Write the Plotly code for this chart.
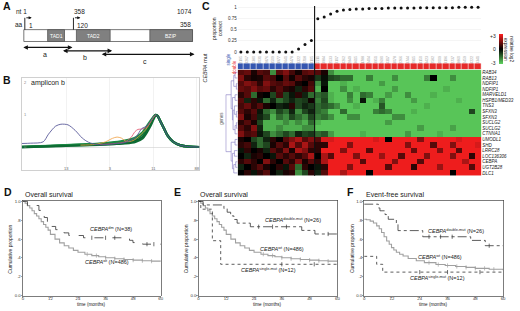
import numpy as np
import plotly.graph_objects as go

W, H = 520, 311
FONT = "Arial, Liberation Sans, sans-serif"

def xd(a, b): return [a / W, b / W]
def yd(top, bottom): return [1 - bottom / H, 1 - top / H]
def PX(x): return x / W
def PY(y): return 1 - y / H

# ---------------- Panel A: CEBPA schematic (schematic units) ----------------
prot_start, prot_end = 23, 193
domain_names = ["TAD1", "TAD2", "BZIP"]
domain_start = [47, 76, 150]
domain_end = [64, 110, 193]
start_sites = [24, 73]
amplicon_names = ["a", "b", "c"]
amplicon_start = [21, 61, 100]
amplicon_end = [72, 112, 195]
amplicon_row = [46, 49.5, 53]

# ---------------- Panel B: melting curves (amplicon b) ----------------
b_ticks = [0.5, 25, 49.5, 74, 98.5]
b_ticktext = ["14", "13", "3", "11", "88"]
wt_u = [0, 10, 22, 33, 44, 52, 58, 64, 68, 70, 72.5, 74.3, 75.4, 76.5, 78, 80, 82, 85, 89, 94, 100]
wt_curves = [
    [0.0, 0.02, 0.04, 0.06, 0.08, 0.10, 0.13, 0.20, 0.32, 0.48, 0.72, 0.92, 1.0, 0.96, 0.80, 0.58, 0.36, 0.17, 0.06, 0.01, 0.0],
    [0.0, 0.02, 0.05, 0.07, 0.10, 0.13, 0.17, 0.26, 0.40, 0.56, 0.78, 0.94, 1.0, 0.96, 0.80, 0.58, 0.36, 0.17, 0.06, 0.01, 0.0],
    [0.01, 0.03, 0.05, 0.08, 0.11, 0.15, 0.20, 0.30, 0.46, 0.62, 0.82, 0.96, 1.0, 0.95, 0.79, 0.57, 0.35, 0.17, 0.06, 0.01, 0.0],
    [-0.01, 0.01, 0.03, 0.05, 0.07, 0.09, 0.11, 0.16, 0.27, 0.42, 0.66, 0.88, 0.99, 0.97, 0.81, 0.59, 0.37, 0.18, 0.06, 0.01, 0.0],
]
wt_colors = ["#0b5e2e", "#127a3a", "#1a8a44", "#0d6b33"]
purple_u = [0, 5, 12, 15, 19, 22, 26, 30, 34, 37.5, 43, 52, 58, 64, 67.6, 70, 72.5, 74.3, 75.4, 76.5, 78, 80, 82, 85, 89, 94, 100]
purple_v = [0.11, 0.12, 0.16, 0.40, 0.65, 0.71, 0.69, 0.52, 0.28, 0.15, 0.07, 0.10, 0.14, 0.30, 0.58, 0.64, 0.80, 0.95, 1.0, 0.96, 0.80, 0.58, 0.36, 0.17, 0.06, 0.01, 0.0]
orange_u = [33, 41, 47, 51, 53.6, 56, 59, 62.6, 66.5, 70, 72.5, 74.3, 75.4]
orange_v = [0.06, 0.08, 0.16, 0.27, 0.31, 0.28, 0.17, 0.20, 0.36, 0.56, 0.78, 0.94, 1.0]
red_u = [44, 52.5, 58, 61.5, 63.7, 65.4, 67.6, 70.4, 72.6, 74.3, 75.4]
red_v = [0.08, 0.11, 0.16, 0.30, 0.48, 0.55, 0.56, 0.62, 0.80, 0.94, 1.0]

# ---------------- Panel C ----------------
sample_ids = ["2195", "3267", "2380", "4031", "2876", "3509", "1977", "2641", "4478", "3322", "2718", "4105",
              "2211", "3984", "2533", "3107", "4262", "2849", "3615", "1788", "2404", "3951", "2690", "4317",
              "3078", "2266", "3744", "2915", "4150", "3423", "2582", "4009", "3196", "2737", "3860", "2459",
              "4222", "3341"]
mut_type = ["single"] * 12 + ["double"] * 26
prop_correct = [0, 0, 0, 0, 0, 0, 0, 0, 0, 0.07, 0.17, 0.26,
                0.74, 0.78, 0.85, 0.91, 0.94, 0.95, 0.96, 0.96, 0.97, 0.97, 0.97, 0.98, 0.98,
                0.98, 0.98, 0.98, 0.99, 0.99, 0.99, 0.99, 0.99, 0.99, 1.0, 1.0, 1.0, 1.0]
genes = ["RAB34", "RAB13", "NDFIP1", "NDFIP1", "MARVELD1", "HSPB1/MED33", "TNS3", "SFXN3", "SFXN3",
         "SUCLG2", "SUCLG2", "CTNNA1", "UMODL1", "SHD", "LRRC28", "LOC136306", "CEBPA", "UGT2B28", "DLC1"]
expr_single = [
    [1.0, 1.2, 0.3, 1.0, 0.8, -2.0, 1.0, 1.5, 0.8, 0.2, 1.0, 1.2],
    [1.5, 0.5, 0.2, 0.3, 1.0, 0.8, 0.0, 1.0, 0.2, 1.0, 0.5, 0.3],
    [1.0, 1.5, 1.2, 0.5, 1.5, 1.0, 0.8, 1.2, 1.0, 0.3, 0.0, 0.8],
    [1.2, 1.0, 1.5, 1.0, 1.2, 0.5, 1.0, 0.5, 0.3, -0.5, 0.5, 1.0],
    [0.5, 1.0, -1.5, 0.2, 0.0, -1.0, 0.8, -1.0, -0.3, 0.5, -0.5, -1.5],
    [1.0, -0.5, 0.5, -0.3, -1.5, -0.5, -1.5, -1.0, -0.5, -1.0, -0.8, 0.2],
    [0.8, 1.2, 0.5, 1.0, 0.3, 0.0, -0.5, -0.3, 0.5, -1.0, -0.5, -0.8],
    [1.0, 0.5, 1.0, -0.3, -1.5, -2.0, -1.0, -1.5, -0.5, -2.0, -1.0, -0.5],
    [1.5, 0.3, 0.8, -0.5, -1.0, -2.5, -1.5, -2.0, -1.0, -1.5, -2.0, -1.0],
    [0.5, 1.0, 0.3, -1.0, -2.5, -2.5, -2.5, -2.0, -2.5, -2.0, -2.5, -1.5],
    [1.0, 0.5, 1.5, -0.5, -2.5, -2.5, -2.0, -2.5, -2.5, -2.5, -2.0, -2.0],
    [1.5, 0.8, 1.0, -0.3, -1.0, -2.0, -1.5, -1.0, -1.5, -0.5, -1.0, -0.8],
    [0.3, 0.0, -1.0, -1.5, -0.5, 0.5, 0.0, 1.0, 1.5, 2.0, 1.0, 1.5],
    [0.5, 0.8, -0.5, -1.5, -1.0, 0.3, 1.0, 0.5, 2.0, 1.0, 2.0, 1.0],
    [-0.3, 0.5, 0.0, 0.3, -0.5, 1.0, 0.5, 1.5, 0.3, 2.0, 1.5, 0.5],
    [0.0, -0.5, 0.3, 0.5, 0.0, -0.3, 1.0, 0.5, 1.0, 0.5, 1.0, 2.0],
    [0.5, 1.0, 0.5, 0.0, 1.5, 0.5, 0.0, 1.0, 0.5, 1.5, 0.3, 1.0],
    [-0.5, 0.0, 0.5, 1.0, 0.3, 0.0, 0.5, -0.3, 1.0, -1.5, 0.5, 0.0],
    [0.0, 0.5, -0.3, 0.5, 1.0, 0.0, -0.5, 0.3, 0.5, -2.0, -1.0, 0.5],
]
expr_double = [
    [1.0, 0.3, -2.0, -2.8, -2.8, -2.8, -2.8, -2.8, -2.8, -2.8, -2.8, -2.8, -2.8,
     -2.8, -2.8, -2.8, -2.8, -2.8, -2.8, -2.8, -2.8, -2.8, -2.8, -2.8, -2.8, -2.8],
    [-0.8, -0.2, -1.0, -1.2, -1.5, -1.5, -2.8, -2.8, -1.8, -2.8, -2.8, -2.8, -2.0,
     -2.8, -2.8, -2.8, -2.8, -1.8, 0.0, -2.8, -2.8, -2.0, -2.8, -2.8, -2.8, -2.8],
    [-2.0, -0.3, -2.8, -2.8, -2.5, -2.8, -2.8, -2.8, -2.8, -2.8, -2.2, -2.8, -2.8,
     -2.8, -2.8, -2.8, -2.8, -2.8, -2.8, -2.8, -2.8, -2.8, -2.8, -2.8, -2.8, -2.8],
    [-2.5, 0.0, -2.8, -2.8, -2.0, -2.8, -2.5, -2.8, -2.8, -2.8, -2.8, -2.8, -2.2,
     -2.8, -2.8, -2.8, -2.8, -2.8, -2.8, -2.8, -2.5, -2.8, -2.8, -2.8, -2.8, -2.8],
    [-1.5, -1.2, -2.5, -2.8, -2.8, -1.8, -2.8, -1.5, -1.8, -2.8, -2.8, -2.2, -2.8,
     -2.8, -2.0, -2.8, -2.8, -2.8, -2.5, -2.8, -2.8, -2.8, -2.8, -2.8, -2.8, -2.8],
    [-1.8, -1.0, -2.5, -2.8, -2.8, -2.0, -2.8, -0.3, -2.8, -2.5, -1.8, -2.8, -2.8,
     -2.8, -2.8, -2.2, -2.8, -2.8, -2.8, -2.8, -2.8, -2.8, -2.5, -2.8, -2.8, -2.8],
    [-1.5, -1.2, -1.5, -2.0, -2.8, -2.8, -2.5, -2.8, -2.8, -2.8, -1.2, -2.8, -2.8,
     -2.8, -2.8, -2.8, -2.8, -2.5, -2.8, -2.8, -2.8, -2.8, -2.8, -2.8, -2.8, -2.8],
    [-1.5, -1.8, -2.8, -2.8, -1.5, -2.8, -2.8, -2.8, -2.8, -1.8, -1.5, -1.8, -2.8,
     -2.8, -2.8, -2.5, -2.8, -2.8, -2.8, -2.8, -2.8, -2.8, -2.8, -2.8, -1.0, -2.8],
    [-1.8, -1.5, -2.0, -2.8, -2.8, -2.0, -2.0, -2.8, -2.8, -2.8, -2.8, -2.8, -2.0,
     -2.0, -2.8, -2.8, -2.8, -2.8, -2.8, -2.8, -2.8, -2.8, -2.8, -2.8, -2.8, -2.8],
    [-2.5, -2.8, -2.8, -2.8, -2.8, -2.8, -2.8, -2.8, -2.8, -2.8, -2.8, -2.2, -2.8,
     -2.8, -2.8, -2.8, -2.8, -2.8, -2.8, -2.8, -2.8, -2.8, -2.8, -2.8, -2.8, -2.8],
    [-2.8, -2.8, -2.8, -2.8, -2.8, -2.8, -2.8, -2.8, -2.8, -2.8, -2.8, -2.8, -2.8,
     -2.8, -2.8, -2.8, -2.2, -2.8, -2.8, -2.8, -2.8, -2.3, -2.8, -2.8, -2.8, -2.8],
    [-1.5, -1.2, -2.2, -2.8, -2.8, -2.8, -2.8, -2.5, -2.8, -2.8, -2.8, -2.8, -2.8,
     -2.8, -2.2, -2.8, -2.8, -2.8, -2.8, -2.5, -2.8, -2.8, -2.8, -2.8, -2.8, -2.8],
    [1.0, 2.5, 2.5, 2.8, 2.8, 2.8, 2.8, 2.8, 2.8, 2.5, 2.8, 0.0, 2.8,
     2.8, 2.8, 2.8, 1.5, 2.8, 2.8, 2.8, 2.8, 2.8, 2.5, 2.8, 2.8, 2.8],
    [0.5, 0.5, 2.8, 2.8, 2.8, 1.5, 2.8, 2.8, 2.8, 2.8, 2.8, 2.8, 2.8,
     2.8, 1.5, 2.8, 2.8, 2.8, 1.0, 2.8, 2.8, 1.5, 2.8, 2.8, 2.8, 2.5],
    [0.5, 2.8, 2.8, 2.8, 1.5, 2.8, 2.8, 2.8, 1.0, 2.8, 2.8, 2.8, 2.8,
     2.8, 2.8, 1.2, 2.8, 2.8, 2.8, 1.5, 2.8, 2.8, 1.0, 2.8, 2.8, 2.8],
    [0.0, 2.0, 1.0, 2.8, 2.8, 2.8, 1.5, 2.8, 2.8, 2.8, 1.8, 2.8, 2.8,
     1.0, 2.8, 2.8, 2.8, 1.5, 2.8, 2.8, 2.8, 1.5, 2.8, 2.8, 0.5, 2.8],
    [0.5, 2.0, 2.8, 2.8, 2.8, 2.8, 2.8, 1.0, 2.8, 2.8, 2.8, 2.8, 1.5,
     2.8, 2.8, 2.8, 1.0, 2.8, 2.8, 2.8, 2.8, 2.8, 2.8, 2.0, 2.8, 2.8],
    [-0.3, 0.5, 2.8, 2.8, 2.8, 1.5, 2.8, 2.8, 2.8, 2.8, 2.8, 1.0, 2.8,
     2.8, 2.8, 0.5, 2.8, 2.8, 2.8, 1.8, 2.8, 2.8, 2.8, 2.8, 1.0, 2.8],
    [-0.5, 1.0, 2.8, 2.8, 2.0, 2.8, 2.8, 2.8, 0.0, 2.8, 2.8, 2.8, 2.8,
     2.8, 2.8, 2.8, 2.8, 2.8, 2.8, 2.8, 2.8, 0.0, 2.8, 2.8, 2.8, 2.8],
]
# gene dendrogram merges: (row_a, height_a, row_b, height_b, merge height)
gene_links = [
    (0, 0, 1, 0, 2), (2, 0, 3, 0, 1), (0.5, 2, 2.5, 1, 3), (4, 0, 5, 0, 2),
    (7, 0, 8, 0, 1), (9, 0, 10, 0, 1), (6, 0, 7.5, 1, 2.5), (9.5, 1, 11, 0, 2),
    (6.75, 2.5, 10.25, 2, 3.5), (4.5, 2, 8.5, 3.5, 4), (1.5, 3, 6.5, 4, 5),
    (12, 0, 13, 0, 2), (14, 0, 15, 0, 2.5), (16, 0, 17, 0, 1.5), (16.5, 1.5, 18, 0, 3),
    (14.5, 2.5, 17.25, 3, 4), (12.5, 2, 15.875, 4, 5), (4.0, 5, 14.19, 5, 9),
]

# ---------------- Panels D-F: Kaplan-Meier ----------------
os_wt_t = [0, 1, 2, 3, 4, 5, 6, 7, 8, 9, 10, 11, 12, 14, 16, 18, 20, 22, 24, 27, 30, 33, 36, 40, 44, 48, 52, 56, 60]
os_wt_s = [1.0, 0.98, 0.955, 0.93, 0.9, 0.87, 0.845, 0.815, 0.785, 0.755, 0.725, 0.695, 0.65, 0.6, 0.56, 0.53,
           0.505, 0.48, 0.46, 0.44, 0.425, 0.412, 0.402, 0.392, 0.384, 0.377, 0.371, 0.366, 0.363]
os_dm_t = [0, 2, 7, 8, 9.3, 10.7, 12.1, 14.3, 17.9, 20, 26.4, 46.4, 47.9, 52.1, 60]
os_dm_s = [1.0, 0.956, 0.904, 0.853, 0.829, 0.785, 0.734, 0.70, 0.666, 0.638, 0.614, 0.587, 0.563, 0.546, 0.546]
os_double_t = [0, 2, 11, 12.4, 13.9, 15.3, 16.7, 22.4, 44.6, 50.3, 60]
os_double_s = [1.0, 0.962, 0.923, 0.885, 0.846, 0.808, 0.769, 0.731, 0.692, 0.654, 0.654]
os_single_t = [0, 1, 6, 9.6, 60]
os_single_s = [1.0, 0.917, 0.583, 0.333, 0.333]
efs_wt_t = [0, 1, 2.6, 4, 5.4, 6.5, 7.5, 8.6, 9.7, 10.8, 11.8, 12.8, 13.9, 15.3, 16.8, 19, 22.5, 26, 31, 35, 39.5, 44, 48, 54, 60]
efs_wt_s = [0.81, 0.805, 0.79, 0.77, 0.74, 0.71, 0.67, 0.625, 0.58, 0.545, 0.51, 0.485, 0.46, 0.44, 0.42, 0.395,
            0.37, 0.35, 0.33, 0.32, 0.31, 0.30, 0.29, 0.28, 0.27]
efs_double_t = [0, 6.1, 6.8, 9, 10.4, 13.9, 14.6, 25.3, 46, 52.3, 60]
efs_double_s = [0.97, 0.93, 0.9, 0.86, 0.81, 0.77, 0.69, 0.625, 0.586, 0.53, 0.53]
efs_single_t = [0, 5.4, 8, 60]
efs_single_s = [0.417, 0.333, 0.25, 0.25]
cens_wt = [28, 32, 36, 40, 44, 48, 52, 56]
cens_os_dm = [30, 36, 40, 54, 57]
cens_os_double = [26, 32, 38, 56]
cens_os_single = [36, 50]
cens_efs_double = [28, 33, 38, 54]
cens_efs_single = [24, 36, 50]

fig = go.Figure()
ann = []
shapes = []

def text(t, x, y, size, color="#222", xanchor="left", yanchor="middle", angle=0):
    ann.append(dict(text=t, x=PX(x), y=PY(y), xref="paper", yref="paper", showarrow=False,
                    xanchor=xanchor, yanchor=yanchor, textangle=angle,
                    font=dict(size=size, color=color, family=FONT)))

# ---- A ----
fig.add_trace(go.Scatter(x=[0], y=[0], xaxis="x", yaxis="y", mode="markers",
                         marker=dict(opacity=0), hoverinfo="skip"))
shapes.append(dict(type="rect", xref="x", yref="y", x0=prot_start, x1=prot_end, y0=28, y1=40,
                   line=dict(color="#555", width=0.8), fillcolor="white"))
for n, s, e in zip(domain_names, domain_start, domain_end):
    shapes.append(dict(type="rect", xref="x", yref="y", x0=s, x1=e, y0=28, y1=40,
                       line=dict(color="#555", width=0.8), fillcolor="#808080"))
    ann.append(dict(text=n, x=(s + e) / 2, y=34, xref="x", yref="y", showarrow=False,
                    font=dict(size=5, color="white", family=FONT)))
for s in start_sites:
    shapes.append(dict(type="line", xref="x", yref="y", x0=s, x1=s, y0=28, y1=16,
                       line=dict(color="#111", width=0.9)))
    ann.append(dict(text="", x=s + 7, y=16, ax=s, ay=16, xref="x", yref="y", axref="x", ayref="y",
                    showarrow=True, arrowhead=2, arrowsize=0.7, arrowwidth=0.9, arrowcolor="#111",
                    standoff=0, startstandoff=0))
for n, s, e, r in zip(amplicon_names, amplicon_start, amplicon_end, amplicon_row):
    ann.append(dict(text="", x=e, y=r, ax=s, ay=r, xref="x", yref="y", axref="x", ayref="y",
                    showarrow=True, arrowside="end+start", arrowhead=2, arrowsize=0.7,
                    arrowwidth=1.3, arrowcolor="#111", standoff=0, startstandoff=0))
    ann.append(dict(text=n, x=(s + e) / 2 - 2, y=r + 7, xref="x", yref="y", showarrow=False,
                    font=dict(size=7, color="#222", family=FONT)))
text("nt 1", 13, 10, 6.5)
text("358", 72, 10, 6.5)
text("1074", 175, 10, 6.5)
text("aa", 12, 23, 6.5)
text("1", 26.5, 24, 6.5)
text("120", 74.5, 24, 6.5)
text("358", 193, 23, 6.5, xanchor="right")

# ---- B ----
for v, c in zip(wt_curves, wt_colors):
    fig.add_trace(go.Scatter(x=wt_u, y=v, xaxis="x2", yaxis="y2", mode="lines",
                             line=dict(color=c, width=2.2, shape="spline", smoothing=0.8), hoverinfo="skip"))
fig.add_trace(go.Scatter(x=orange_u, y=orange_v, xaxis="x2", yaxis="y2", mode="lines",
                         line=dict(color="#f0a040", width=0.8, shape="spline", smoothing=0.8)))
fig.add_trace(go.Scatter(x=red_u, y=red_v, xaxis="x2", yaxis="y2", mode="lines",
                         line=dict(color="#e0506a", width=0.8, shape="spline", smoothing=0.8)))
fig.add_trace(go.Scatter(x=purple_u, y=purple_v, xaxis="x2", yaxis="y2", mode="lines",
                         line=dict(color="#5a5a9a", width=0.9, shape="spline", smoothing=0.8)))
text("amplicon b", 28, 82, 7)

# ---- C ----
ncol = len(sample_ids)
xs = list(range(ncol))
fig.add_trace(go.Scatter(x=xs, y=prop_correct, xaxis="x3", yaxis="y3", mode="markers",
                         marker=dict(color="#111", size=3), cliponaxis=False))
mut_code = [[0 if m == "single" else 1 for m in mut_type]]
fig.add_trace(go.Heatmap(z=mut_code, x=xs, xaxis="x4", yaxis="y4", zmin=0, zmax=1, xgap=0.6,
                         colorscale=[[0, "#3556b0"], [0.5, "#3556b0"], [0.5, "#e52a2a"], [1, "#e52a2a"]],
                         showscale=False, hoverinfo="skip"))
z = [a + b for a, b in zip(expr_single, expr_double)]
fig.add_trace(go.Heatmap(z=z, x=xs, y=list(range(len(genes))), xaxis="x5", yaxis="y5",
                         zmin=-3, zmax=3,
                         colorscale=[[0, "#5ed35e"], [0.5, "#000000"], [1, "#ff1f1f"]],
                         colorbar=dict(x=PX(502), xanchor="left", y=PY(48), yanchor="middle",
                                       len=30 / H, lenmode="fraction", thickness=4, thicknessmode="pixels",
                                       showticklabels=False, ticks="", outlinewidth=0, xpad=0, ypad=0)))
dx, dy = [], []
for ya, ha, yb, hb, h in gene_links:
    dx += [ha, h, h, hb, None]
    dy += [ya, ya, yb, yb, None]
fig.add_trace(go.Scatter(x=dx, y=dy, xaxis="x6", yaxis="y6", mode="lines",
                         line=dict(color="#8075c0", width=0.6), hoverinfo="skip"))
shapes.append(dict(type="line", xref="x5", yref="paper", x0=11.5, x1=11.5, y0=PY(176), y1=PY(4),
                   line=dict(color="#111", width=1.1)))
text("proportion<br>correct", 218, 27, 5, angle=-90, xanchor="center")
text("<i>CEBPA</i> mut", 206, 67, 5.5, angle=-90, xanchor="center")
text("single", 229, 58, 4.5, color="#3556b0", angle=-90, xanchor="center")
text("double", 235, 66, 4.5, color="#e52a2a", angle=-90, xanchor="center")
text("genes", 222, 118, 4.5, color="#555", angle=-90, xanchor="center")
text("+3", 501, 34, 5, xanchor="right")
text("0", 501, 48, 5, xanchor="right")
text("-3", 501, 62, 5, xanchor="right")
text("relative log2<br>expression", 512, 48, 4.8, angle=90, xanchor="center")

# ---- D, E, F ----
def step_at(t, s, tc):
    i = np.searchsorted(np.array(t), np.array(tc), side="right") - 1
    return list(np.array(s)[i])

def km(t, s, cens, ax, color, dash, width):
    fig.add_trace(go.Scatter(x=t, y=s, xaxis="x" + ax, yaxis="y" + ax, mode="lines",
                             line=dict(color=color, width=width, dash=dash, shape="hv"), hoverinfo="skip"))
    if cens:
        fig.add_trace(go.Scatter(x=cens, y=step_at(t, s, cens), xaxis="x" + ax, yaxis="y" + ax, mode="markers",
                                 marker=dict(symbol="line-ns", size=3, line=dict(color=color, width=0.7)),
                                 hoverinfo="skip"))

km(os_wt_t, os_wt_s, cens_wt, "7", "#a0a0a0", "solid", 1.1)
km(os_dm_t, os_dm_s, cens_os_dm, "7", "#333", "dash", 0.8)
km(os_wt_t, os_wt_s, cens_wt, "8", "#a0a0a0", "solid", 1.1)
km(os_double_t, os_double_s, cens_os_double, "8", "#333", "dashdot", 0.8)
km(os_single_t, os_single_s, cens_os_single, "8", "#333", "dot", 0.8)
km(efs_wt_t, efs_wt_s, cens_wt, "9", "#a0a0a0", "solid", 1.1)
km(efs_double_t, efs_double_s, cens_efs_double, "9", "#333", "dashdot", 0.8)
km(efs_single_t, efs_single_s, cens_efs_single, "9", "#333", "dot", 0.8)

km_boxes = {"7": (22, 161), "8": (199, 339), "9": (366, 506)}
titles = {"7": "Overall survival", "8": "Overall survival", "9": "Event-free survival"}
for k, (a, b) in km_boxes.items():
    text(titles[k], a, 195.5, 7)
    text("time (months)", (a + b) / 2, 306.5, 4.6, xanchor="center")
    text("Cumulative proportion", a - 13, 250, 5, angle=-90, xanchor="center")

text("<i>CEBPA</i><sup>dm</sup> (N=38)", 88, 230, 5.5)
text("<i>CEBPA</i><sup>wt</sup> (N=486)", 83, 263, 5.5)
text("<i>CEBPA</i><sup>double-mut</sup> (N=26)", 264, 221, 5.5)
text("<i>CEBPA</i><sup>wt</sup> (N=486)", 259, 250, 5.5)
text("<i>CEBPA</i><sup>single-mut</sup> (N=12)", 240, 271, 5.5)
text("<i>CEBPA</i><sup>double-mut</sup> (N=26)", 428, 232, 5.5)
text("<i>CEBPA</i><sup>wt</sup> (N=486)", 418, 258, 5.5)
text("<i>CEBPA</i><sup>single-mut</sup> (N=12)", 410, 280, 5.5)

# panel letters
for L, x, y in [("A", 0.5, 4.5), ("B", 0.5, 79.5), ("C", 201, 4.5), ("D", 1, 192.5), ("E", 172, 192.5), ("F", 347, 192.5)]:
    text("<b>" + L + "</b>", x, y, 10.5, color="#111")

km_x = dict(range=[0, 60], tickvals=[0, 12, 24, 36, 48, 60], ticks="outside", ticklen=1.5, tickwidth=0.5,
            tickcolor="#444", showline=True, mirror=True, linecolor="#444", linewidth=0.7, showgrid=False,
            zeroline=False, tickfont=dict(size=4.3, color="#333"), ticklabelstandoff=-4)
km_y = dict(range=[-0.005, 1.01], domain=yd(201, 298), tickvals=[0, 0.2, 0.4, 0.6, 0.8, 1.0],
            ticktext=["0.0", ".2", ".4", ".6", ".8", "1.0"], ticks="outside", ticklen=1.5, tickwidth=0.5,
            tickcolor="#444", showline=True, mirror=True, linecolor="#444", linewidth=0.7, showgrid=False,
            zeroline=False, tickfont=dict(size=4.3, color="#333"), ticklabelstandoff=-1)

layout = dict(
    width=W, height=H, margin=dict(l=0, r=0, t=0, b=0), paper_bgcolor="white", plot_bgcolor="white",
    showlegend=False, hovermode=False, font=dict(family=FONT, size=5, color="#222"),
    xaxis=dict(domain=xd(0, 200), range=[0, 200], visible=False),
    yaxis=dict(domain=yd(0, 70), range=[70, 0], visible=False),
    xaxis2=dict(domain=xd(21, 200), range=[0, 100], anchor="y2", tickvals=b_ticks, ticktext=b_ticktext,
                showline=True, mirror=True, linecolor="#b0b0b0", linewidth=0.6, showgrid=True,
                gridcolor="#e6e6e6", gridwidth=0.5, zeroline=False, ticks="",
                tickfont=dict(size=4, color="#666"), ticklabelstandoff=-5),
    yaxis2=dict(domain=yd(77, 170), range=[-0.71, 2.15], anchor="x2", tickvals=[0, 1, 2],
                ticktext=["0", "1", "2"], ticklabelposition="inside", showline=True, mirror=True,
                linecolor="#b0b0b0", linewidth=0.6, showgrid=False, zeroline=True, zerolinecolor="#cfcfcf",
                zerolinewidth=0.6, ticks="", tickfont=dict(size=4, color="#888")),
    xaxis3=dict(domain=xd(238.5, 484), range=[-0.5, ncol - 0.5], anchor="y3", tickvals=xs,
                ticktext=sample_ids, tickangle=-90, ticks="", showgrid=False, zeroline=False,
                tickfont=dict(size=3.5, color="#999")),
    yaxis3=dict(domain=yd(3, 53), range=[-0.05, 1.05], anchor="x3", tickvals=[0, 0.25, 0.5, 0.75, 1],
                ticktext=["0", "0.25", "0.5", "0.75", "1"], showgrid=True, gridcolor="#ececec",
                gridwidth=0.5, zeroline=False, ticks="", tickfont=dict(size=4.5, color="#333")),
    xaxis4=dict(domain=xd(238.5, 484), range=[-0.5, ncol - 0.5], anchor="y4", visible=False),
    yaxis4=dict(domain=yd(62, 68.5), anchor="x4", visible=False),
    xaxis5=dict(domain=xd(238.5, 484), range=[-0.5, ncol - 0.5], anchor="y5", visible=False),
    yaxis5=dict(domain=yd(68.5, 176), range=[len(genes) - 0.5, -0.5], anchor="x5", side="right",
                tickvals=list(range(len(genes))), ticktext=["<i>" + g + "</i>" for g in genes],
                ticks="", showgrid=False, zeroline=False, tickfont=dict(size=4.5, color="#222")),
    xaxis6=dict(domain=xd(226, 238.5), range=[9.5, 0], anchor="y6", visible=False),
    yaxis6=dict(domain=yd(68.5, 176), range=[len(genes) - 0.5, -0.5], anchor="x6", visible=False),
    xaxis7=dict(domain=xd(22, 161), anchor="y7", **km_x),
    yaxis7=dict(anchor="x7", **km_y),
    xaxis8=dict(domain=xd(199, 339), anchor="y8", **km_x),
    yaxis8=dict(anchor="x8", **km_y),
    xaxis9=dict(domain=xd(366, 506), anchor="y9", **km_x),
    yaxis9=dict(anchor="x9", **km_y),
    annotations=ann, shapes=shapes,
)
fig.update_layout(**layout)
fig.write_html("out.html", config={"displayModeBar": False, "staticPlot": True},
               post_script="document.body.style.margin='0px';")
